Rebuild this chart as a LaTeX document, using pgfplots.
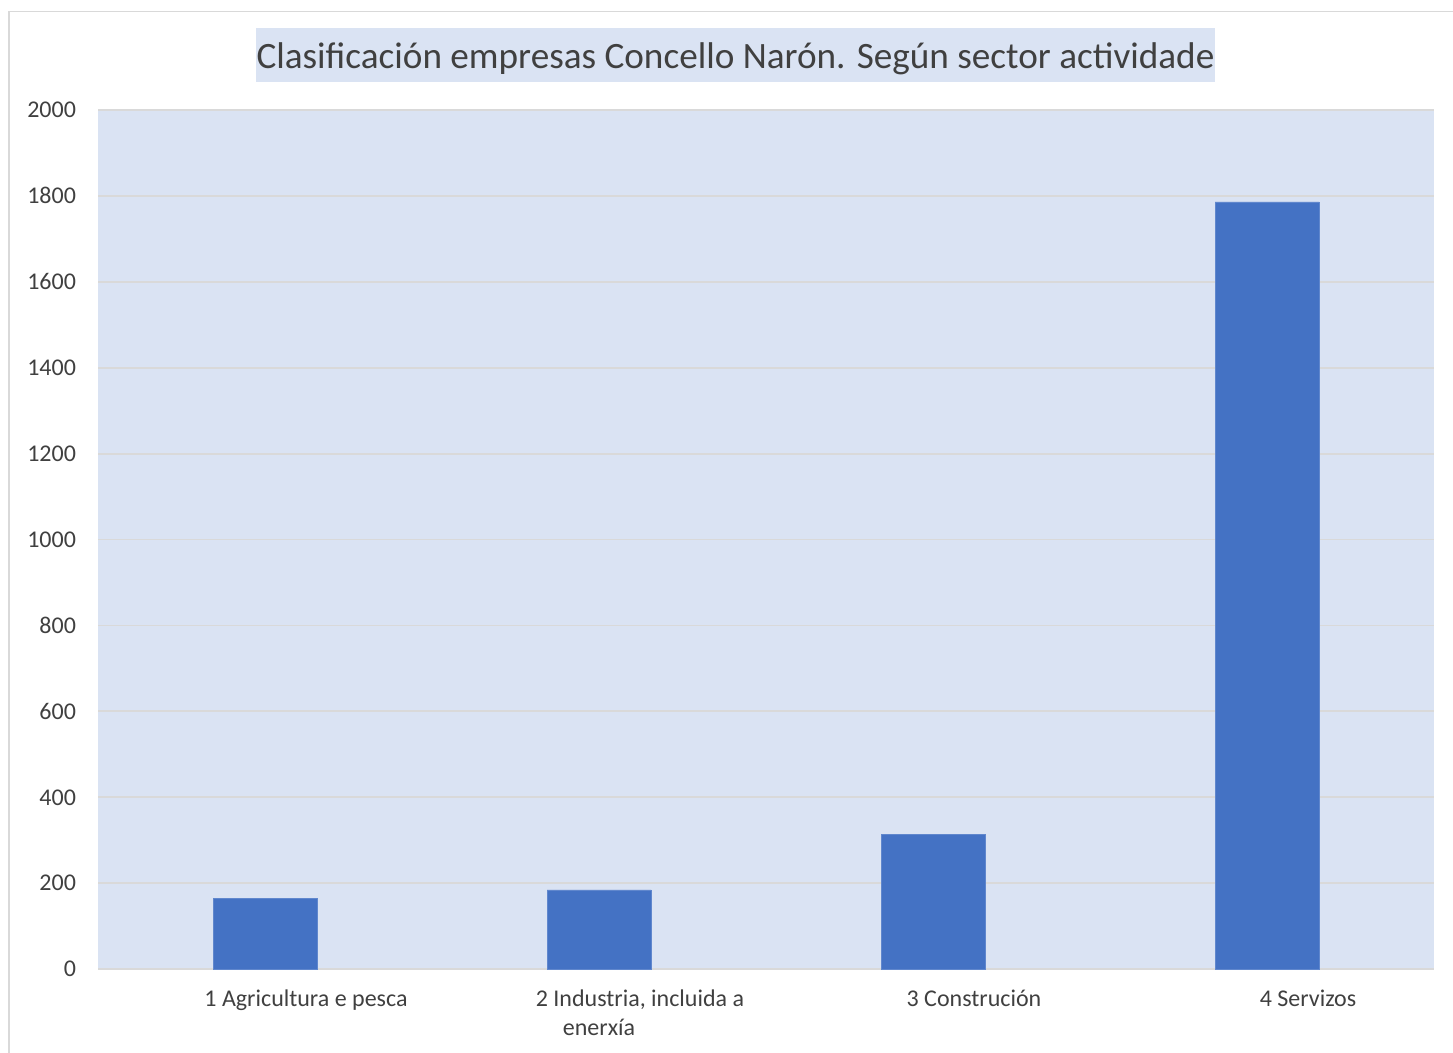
\documentclass[border=0pt]{standalone}
\usepackage{fontspec}
\setmainfont{Carlito}
\usepackage{pgfplots}
\pgfplotsset{compat=1.18}
\definecolor{bg}{HTML}{DAE3F3}
\definecolor{barc}{HTML}{4472C4}
\definecolor{gridc}{HTML}{D9D9D9}
\definecolor{txt}{HTML}{404040}
\begin{document}
\begin{tikzpicture}
\useasboundingbox (0,0) rectangle (726.5pt,-526.5pt);
\draw[gridc, line width=0.9pt] (4.5pt,-526.5pt) -- (4.5pt,-5.75pt) -- (726.5pt,-5.75pt);
\node[fill=bg, minimum height=27pt, inner xsep=0.5pt, inner ysep=0pt, text height=15.5pt, text depth=1.5pt, text=txt, font=\fontsize{18.6}{22}\selectfont] at (367.75pt,-27.5pt) {Clasificación empresas Concello Narón. Según sector actividade};
\begin{axis}[
  at={(49pt,-484.5pt)}, anchor=south west,
  scale only axis, width=668pt, height=429.5pt,
  ymin=0, ymax=2000, ytick={0,200,...,2000},
  xmin=-0.5, xmax=3.5, xtick={0,1,2,3},
  xticklabels={1 Agricultura e pesca, {2 Industria, incluida a\\\hspace*{-41pt}enerxía}, 3 Construción, 4 Servizos},
  axis line style={draw=none},
  tick style={draw=none},
  ymajorgrids, grid style={gridc, line width=0.9pt},
  axis background/.style={fill=bg},
  tick label style={font=\fontsize{12}{14.5}\selectfont, text=txt},
  typeset ticklabels with strut,
  /pgf/number format/assume math mode=true,
  /pgf/number format/1000 sep={},
  yticklabel style={xshift=-7.5pt, yshift=-1pt},
  xticklabel style={xshift=20.5pt, align=center, yshift=-5pt},
]
\addplot[ybar, bar width=52pt, fill=barc, draw=barc!85!white] coordinates {(0,165) (1,184) (2,314) (3,1786)};
\end{axis}
\end{tikzpicture}
\end{document}
